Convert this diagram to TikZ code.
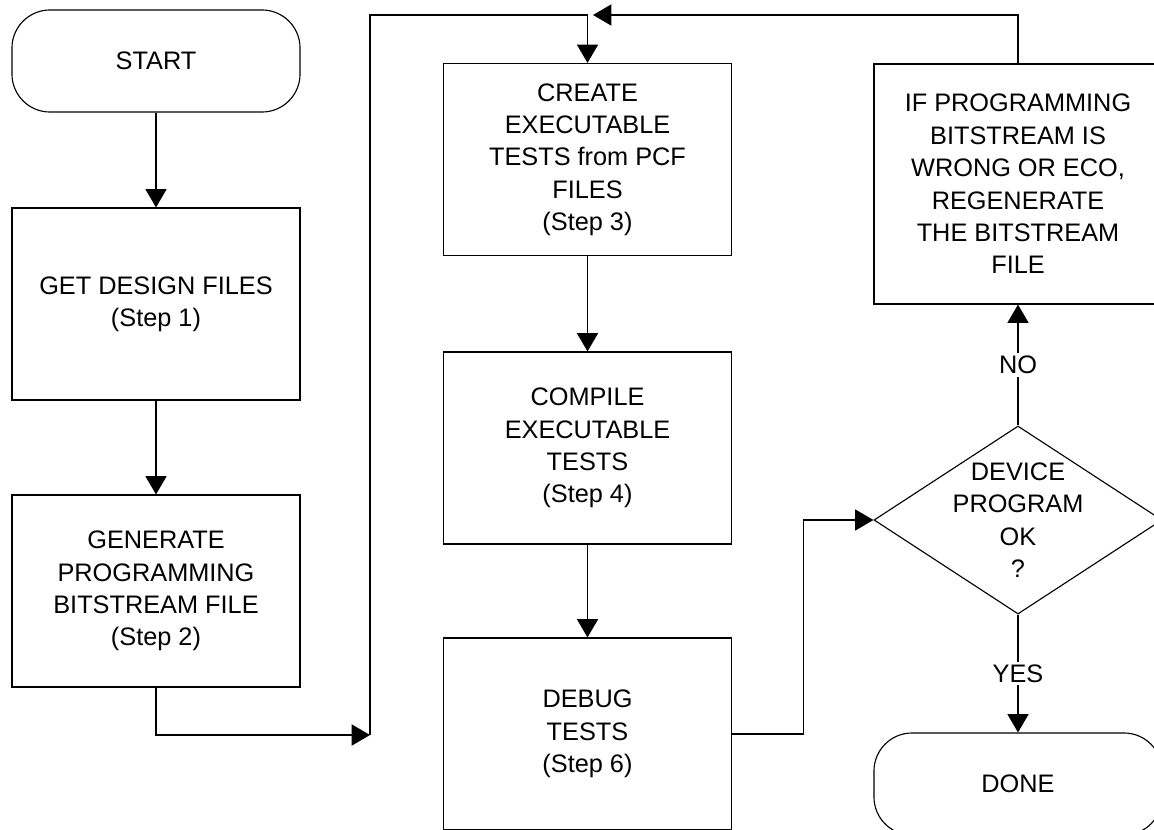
\documentclass[tikz,border=0pt]{standalone}
\usepackage{fontspec}
\setmainfont{Liberation Sans}
\usetikzlibrary{arrows.meta, shapes.geometric}

\begin{document}
\begin{tikzpicture}[x=0.025cm, y=-0.025cm, line width=0.8pt,
    every node/.style={font=\fontsize{18}{23}\selectfont, align=center, inner sep=0pt},
    stepbox/.style={draw, minimum width=7.2cm, minimum height=4.8cm},
    terminal/.style={draw, rounded corners=0.95cm, minimum width=7.2cm, minimum height=2.55cm},
    decision/.style={draw, diamond, minimum width=7.2cm, minimum height=4.7cm},
    flow/.style={-{Triangle[length=13pt,width=15pt]}},
    tag/.style={fill=white, inner sep=2pt}]
    \useasboundingbox (0,0) rectangle (1154,829);
    \clip (0,0) rectangle (1154,829);

    \node[terminal] (start) at (156,61) {START};
    \node[stepbox] (getfiles) at (156,304) {GET DESIGN FILES\\(Step 1)};
    \node[stepbox] (genbit) at (156,591) {GENERATE\\PROGRAMMING\\BITSTREAM FILE\\(Step 2)};
    \node[stepbox] (create) at (587.5,159.5) {CREATE\\EXECUTABLE\\TESTS from PCF\\FILES\\(Step 3)};
    \node[stepbox] (compile) at (587.5,448) {COMPILE\\EXECUTABLE\\TESTS\\(Step 4)};
    \node[stepbox] (debug) at (587.5,734) {DEBUG\\TESTS\\(Step 6)};
    \node[stepbox, minimum height=6cm] (regen) at (1018,184) {IF PROGRAMMING\\BITSTREAM IS\\WRONG OR ECO,\\REGENERATE\\THE BITSTREAM\\FILE};
    \node[decision] (decide) at (1018,520) {};
    \node (decidetext) at (decide.center) {DEVICE\\PROGRAM\\OK\\?};
    \node[terminal] (done) at (1018,784) {DONE};

    \coordinate (loopin) at (370,735);
    \coordinate (merge) at (587.5,15);
    \coordinate (mergetip) at (593,15);

    \draw[flow] (start) -- (getfiles);
    \draw[flow] (getfiles) -- (genbit);
    \draw[flow] (genbit.south) |- (loopin);
    \draw (loopin) |- (merge);
    \draw[flow] (merge) -- (create);
    \draw[flow] (create) -- (compile);
    \draw[flow] (compile) -- (debug);
    \draw[flow] (debug.east) -- ++(71,0) |- (decide.west);
    \draw[flow] (decide.north) -- node[tag] (nolabel) {NO} (regen.south);
    \draw[flow] (regen.north) |- (mergetip);
    \draw[flow] (decide.south) -- node[tag] (yeslabel) {YES} (done.north);
\end{tikzpicture}
\end{document}
